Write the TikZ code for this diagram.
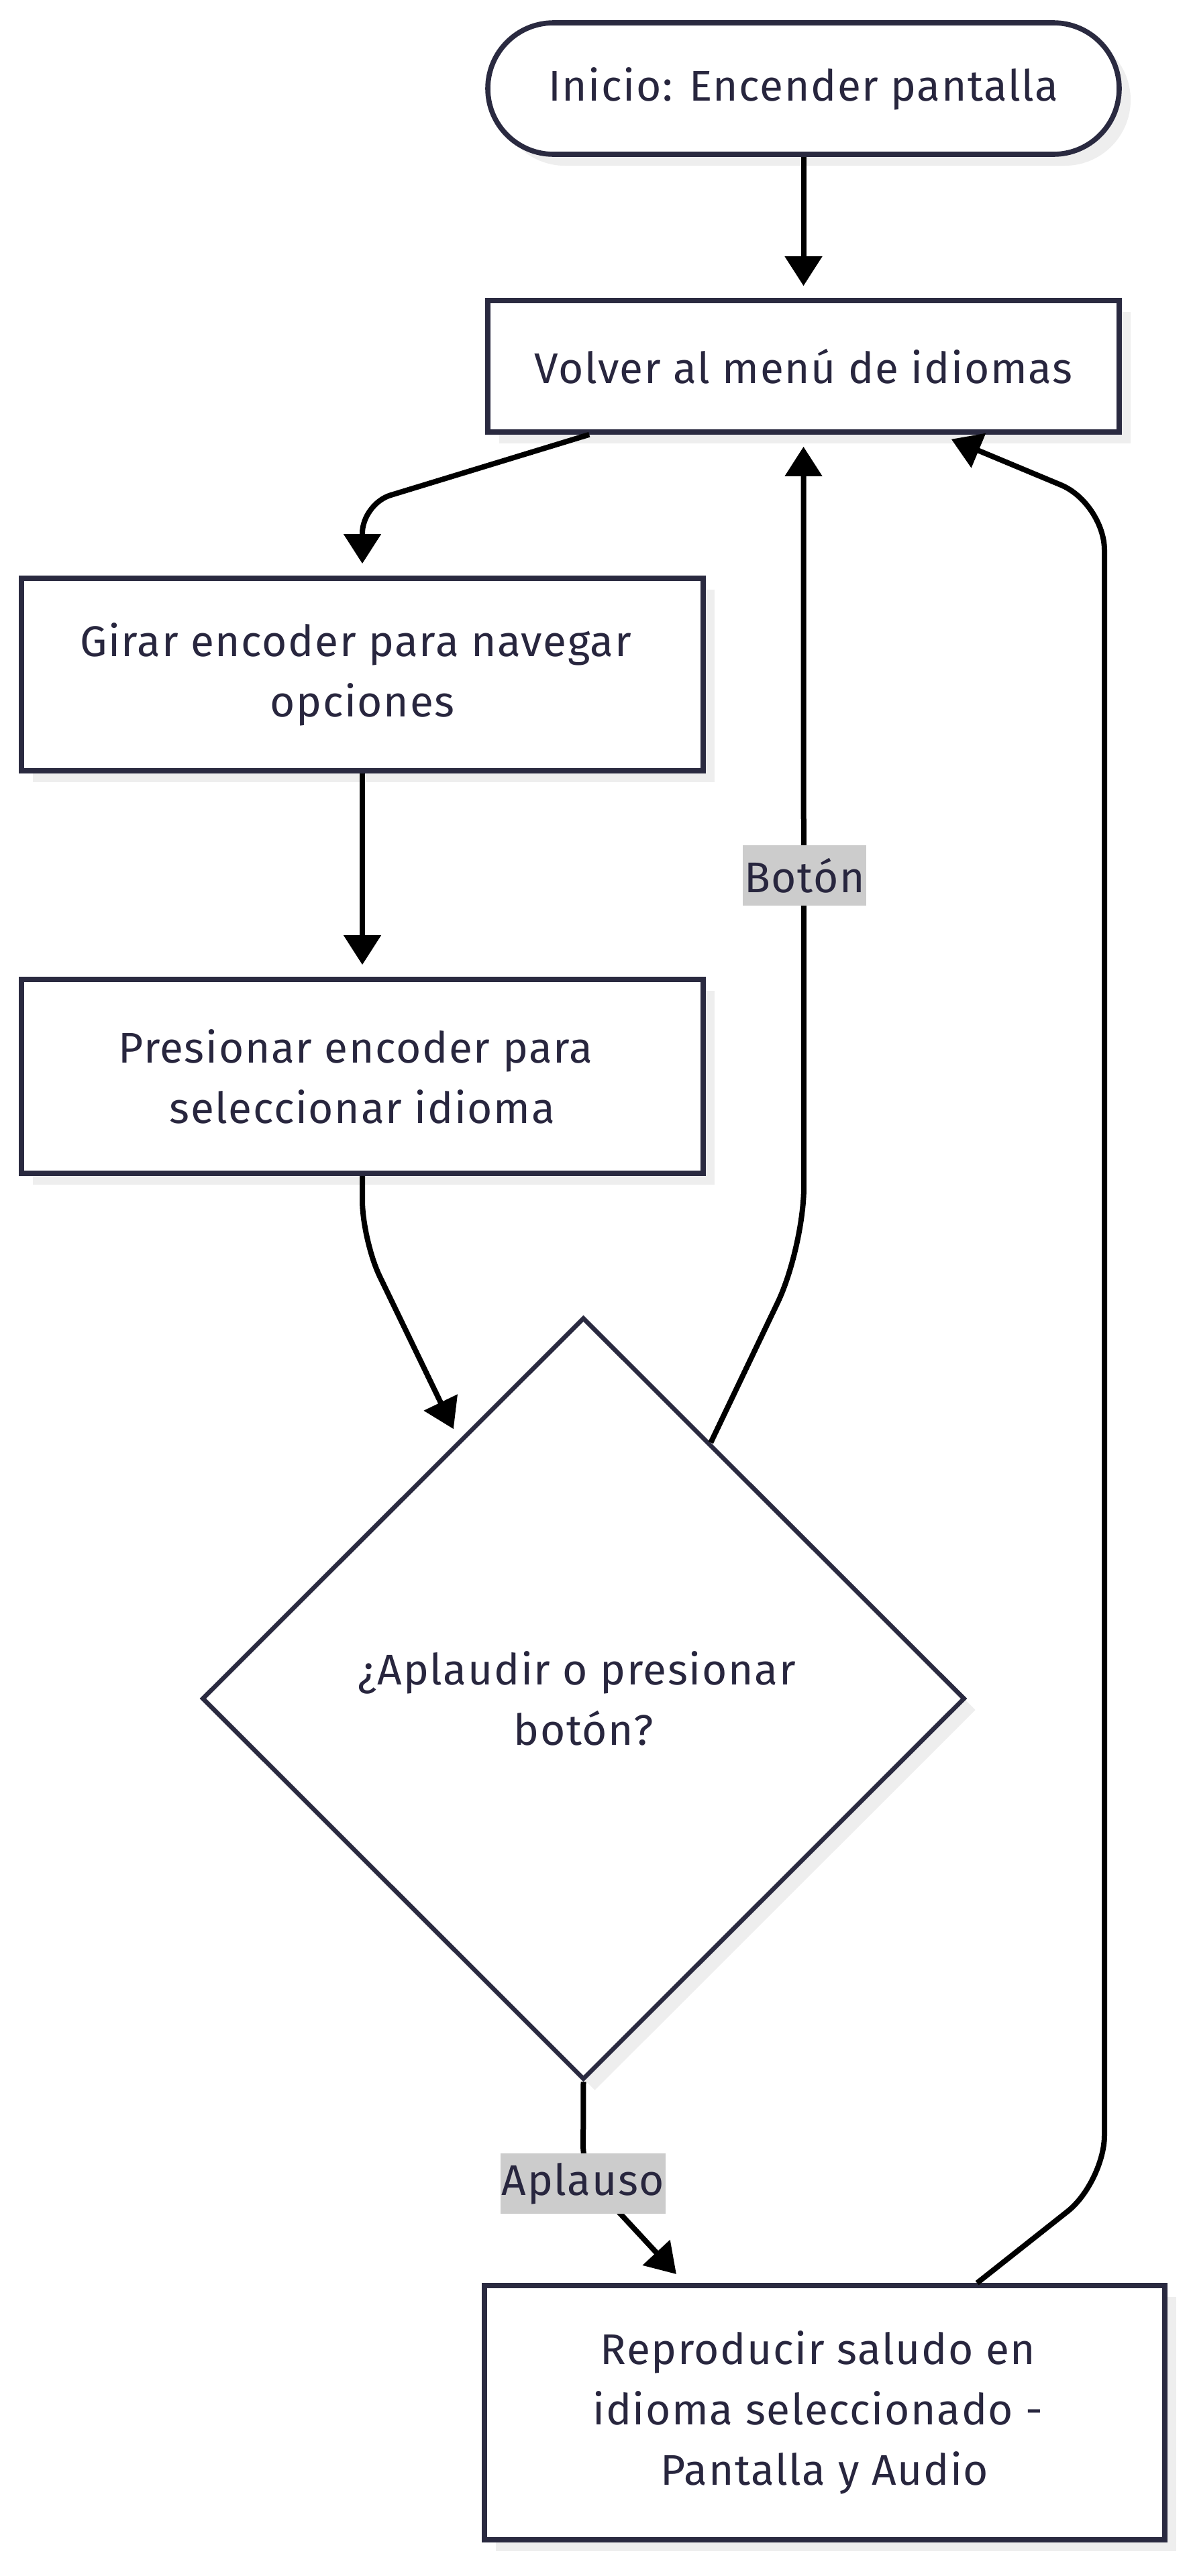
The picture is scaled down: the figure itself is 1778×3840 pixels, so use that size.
\documentclass[tikz,border=0pt]{standalone}
\usepackage{fontspec}
\setmainfont[LetterSpace=2.5]{Fira Sans}
\usetikzlibrary{arrows.meta,shapes.geometric,shadows,calc}
\definecolor{txt}{HTML}{28263E}
\definecolor{brd}{HTML}{2A2A40}
\definecolor{lblbg}{HTML}{CCCCCC}
\definecolor{shd}{HTML}{EEEEEE}
\newcommand{\trsp}{\kern10pt}
\begin{document}
\begin{tikzpicture}[x=0.5pt,y=-0.5pt,
  box/.style={draw=brd, line width=3.8pt, fill=white, text=txt,
    font=\fontsize{32}{45}\selectfont, align=center, inner sep=0pt,
    drop shadow={shadow xshift=8.5pt, shadow yshift=-8.5pt, fill=shd, opacity=1}},
  edge/.style={draw=black, line width=4pt, -{Triangle[length=22pt,width=27pt]}, shorten >=9pt},
  lbl/.style={fill=lblbg, text=txt, font=\fontsize{32}{45}\selectfont,
    minimum height=45pt, inner xsep=1pt, inner ysep=0pt}]
\useasboundingbox (0,0) rectangle (1778,3840);
\fill[white] (0,0) rectangle (1778,3840);

\node[box, rounded corners=49pt, minimum width=470.5pt, minimum height=98pt] (start) at (1197.5,132) {Inicio: Encender pantalla};
\node[box, minimum width=470.5pt, minimum height=98pt] (volver) at (1197.5,546) {Volver al menú de idiomas};
\node[box, minimum width=508pt, minimum height=143.5pt] (girar) at (540,1005.5) {Girar encoder para navegar\trsp\\opciones};
\node[box, minimum width=508pt, minimum height=144.5pt] (presionar) at (540,1604.5) {Presionar encoder para\trsp\\seleccionar idioma};
\node[box, diamond, line width=3.3pt, aspect=1, minimum width=568.5pt, minimum height=568pt] (dec) at (869.5,2532) {¿Aplaudir o presionar\trsp\\botón?};
\node[box, minimum width=507pt, minimum height=189.5pt] (repro) at (1229,3596.5) {Reproducir saludo en\trsp\\idioma seleccionado -\trsp\\Pantalla y Audio};

% edges
\draw[edge] (start.south) -- (volver.north);
\draw[edge, rounded corners=22pt] ([xshift=77.5pt]volver.south west) -- (540,751) -- (girar.north);
\draw[edge] (girar.south) -- (presionar.north);
\draw[edge, rounded corners=30pt] (presionar.south) -- (540,1849) -- ($(dec.west)!0.675!(dec.north)$);
\draw[edge, rounded corners=45pt] ($(dec.north)!0.332!(dec.east)$) -- (1198,1860) -- (volver.south);
\draw[edge, rounded corners=20pt] (dec.south) -- (869,3240) -- ([xshift=151pt]repro.north west);
\draw[edge, rounded corners=35pt] ([xshift=369pt]repro.north west) -- (1646,3253) -- (1646,750) -- ([xshift=339pt]volver.south west);

% edge labels
\node[lbl, minimum width=87pt] (lbtn) at (1199,1305) {Botón};
\node[lbl, minimum width=120pt] (lapl) at (869,3255) {Aplauso};
\end{tikzpicture}
\end{document}
